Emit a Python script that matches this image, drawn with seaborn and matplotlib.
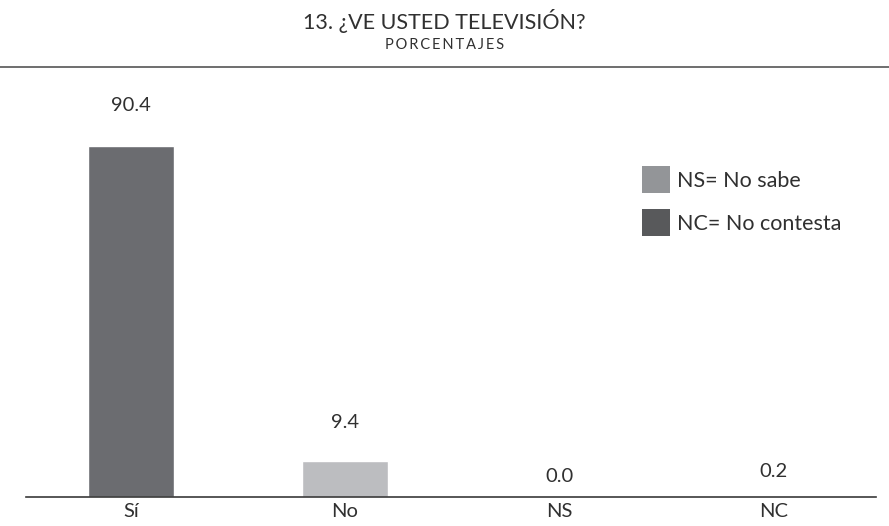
import matplotlib
matplotlib.use("Agg")
import matplotlib.pyplot as plt
from matplotlib.patches import Patch
import seaborn as sns
import pandas as pd

categories = ["Sí", "No", "NS", "NC"]
values = [90.4, 9.4, 0.0, 0.2]
bar_colors = ["#6b6c70", "#bcbdc0", "#939598", "#58595b"]
value_labels = ["90.4", "9.4", "0.0", "0.2"]
label_pad_pt = [23, 21, 8.5, 12]

legend_labels = ["NS= No sabe", "NC= No contesta"]
legend_colors = ["#939598", "#58595b"]

title = "13. ¿VE USTED TELEVISIÓN?"
subtitle = "PORCENTAJES"

sns.set_theme(style="white")
plt.rcParams["font.family"] = ["Lato", "DejaVu Sans"]

TEXT = "#303030"
df = pd.DataFrame({"cat": categories, "val": values})

fig = plt.figure(figsize=(8.89, 5.26), dpi=100)
W, H = 889, 526
ax = fig.add_axes([26 / W, (H - 497) / H, (876 - 26) / W, (497 - 80) / H])

sns.barplot(data=df, x="cat", y="val", hue="cat", palette=bar_colors,
            width=0.40, legend=False, ax=ax, saturation=1)

ax.set_xlim(-0.49, 3.48)
ax.set_ylim(0, 107.4)
ax.set_xlabel("")
ax.set_ylabel("")
ax.set_yticks([])
for s in ["left", "right", "top"]:
    ax.spines[s].set_visible(False)
ax.spines["bottom"].set_color("#3a3a3a")
ax.spines["bottom"].set_linewidth(1.2)
ax.tick_params(axis="x", length=0, pad=4, labelsize=14.5, labelcolor=TEXT)

for i, (v, lab, pad) in enumerate(zip(values, value_labels, label_pad_pt)):
    ax.annotate(lab, (i, v), xytext=(0, pad), textcoords="offset points",
                ha="center", va="bottom", fontsize=14.5, color=TEXT)

# legend for the "no sabe / no contesta" codes
fs = 15.5
em = fs * 100 / 72
ypad = 0.3  # default patch handler padding, in font-size units
handles = [Patch(facecolor=c, edgecolor="none") for c in legend_colors]
ax.legend(handles, legend_labels, loc="upper left",
          bbox_to_anchor=((642 - 0.4 * em - 26) / (876 - 26),
                          (497 - 166 + 0.4 * em) / (497 - 80)),
          frameon=False, handlelength=28 / em, handleheight=27 / em + ypad,
          handletextpad=7 / em, labelspacing=16 / em, labelcolor=TEXT,
          borderaxespad=0, prop={"size": fs})

fig.text(0.5, 1 - 21 / H, title, ha="center", va="center", fontsize=15.5,
         color=TEXT)
fig.text(0.5, 1 - 45 / H, "\u2009".join(subtitle), ha="center", va="center",
         fontsize=10.5, color=TEXT)
fig.add_artist(plt.Line2D([0, 1], [1 - 67 / H, 1 - 67 / H], color="#555555",
                          linewidth=1.2, transform=fig.transFigure))

fig.savefig("out.png", dpi=100, facecolor="white")
